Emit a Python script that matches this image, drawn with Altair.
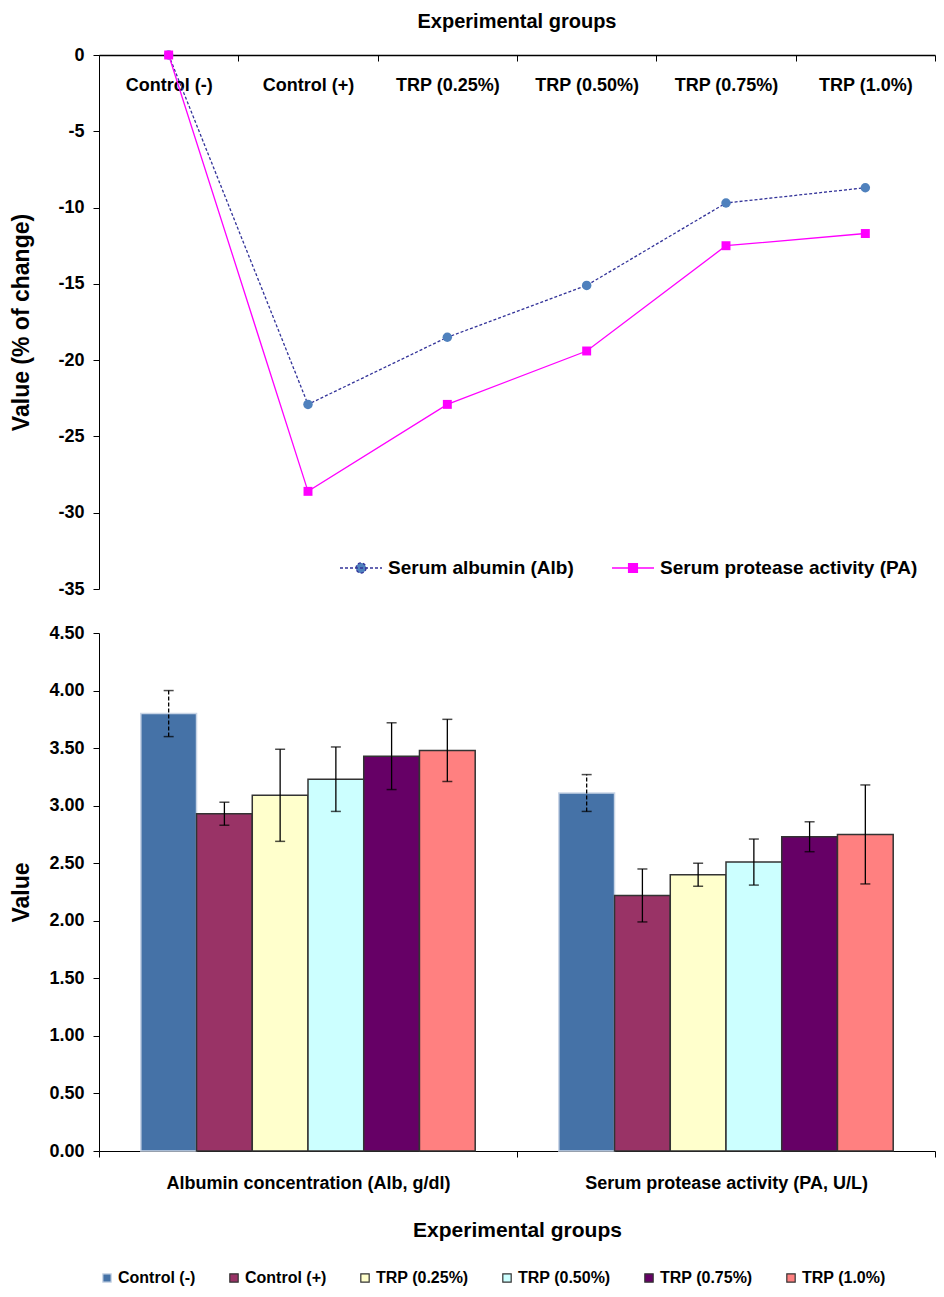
import altair as alt
import pandas as pd

FONT = "Liberation Sans"

groups = ["Control (-)", "Control (+)", "TRP (0.25%)", "TRP (0.50%)", "TRP (0.75%)", "TRP (1.0%)"]

# Top panel: % change
series = ["Serum albumin (Alb)", "Serum protease activity  (PA)"]
alb_change = [0, -22.9, -18.5, -15.1, -9.7, -8.7]
pa_change = [0, -28.6, -22.9, -19.4, -12.5, -11.7]

# Bottom panel: values (mean and SD)
measures = ["Albumin concentration (Alb, g/dl)", "Serum protease activity  (PA, U/L)"]
alb_mean = [3.80, 2.93, 3.09, 3.23, 3.43, 3.48]
alb_sd = [0.20, 0.10, 0.40, 0.28, 0.29, 0.27]
pa_mean = [3.11, 2.22, 2.40, 2.51, 2.73, 2.75]
pa_sd = [0.16, 0.23, 0.10, 0.20, 0.13, 0.43]

bar_fill = ["#4572A7", "#993366", "#FFFFCC", "#CCFFFF", "#660066", "#FF8080"]
bar_stroke = ["#C9D5E6", "#333333", "#333333", "#333333", "#333333", "#333333"]

line_colors = ["#333399", "#FF00FF"]
marker_colors = ["#4F81BD", "#FF00FF"]

W = 836
H1 = 534
H2 = 518

alb_df = pd.DataFrame({"group": groups, "series": series[0], "value": alb_change})
pa_df = pd.DataFrame({"group": groups, "series": series[1], "value": pa_change})
top_df = pd.concat([alb_df, pa_df], ignore_index=True)

bar_rows = []
for g, m, s in zip(groups, alb_mean, alb_sd):
    bar_rows.append({"measure": measures[0], "group": g, "mean": m, "lo": m - s, "hi": m + s})
for g, m, s in zip(groups, pa_mean, pa_sd):
    bar_rows.append({"measure": measures[1], "group": g, "mean": m, "lo": m - s, "hi": m + s})
bar_df = pd.DataFrame(bar_rows)

x_top = alt.X(
    "group:N", sort=groups, bandPosition=0.5,
    scale=alt.Scale(type="band", domain=groups, paddingInner=0, paddingOuter=0),
    axis=alt.Axis(orient="bottom", offset=-H1, title=None, tickBand="extent",
                  labelAngle=0, labelFontSize=18, labelFontWeight="bold",
                  labelPadding=15, tickSize=6, labelColor="black",
                  domainColor="black", tickColor="black", domainWidth=1.5),
)
y_top = alt.Y(
    "value:Q",
    scale=alt.Scale(domain=[-35, 0], nice=False),
    axis=alt.Axis(values=list(range(-35, 1, 5)), labelExpr="datum.value + ''",
                  title="Value (% of change)",
                  titleFontSize=23, titleFontWeight="bold", labelFontSize=18,
                  labelFontWeight="bold", labelColor="black", titleColor="black",
                  domainColor="black", tickColor="black", grid=False,
                  labelPadding=9, titlePadding=24, tickSize=6),
)

line_alb = alt.Chart(alb_df).mark_line(strokeWidth=1.3, color=line_colors[0], strokeDash=[3, 2]).encode(x=x_top, y=y_top)
line_pa = alt.Chart(pa_df).mark_line(strokeWidth=1.3, color=line_colors[1]).encode(x=x_top, y=y_top)
pts_alb = alt.Chart(alb_df).mark_point(filled=True, shape="circle", size=90, opacity=1, color=marker_colors[0]).encode(x=x_top, y=y_top)
pts_pa = alt.Chart(pa_df).mark_point(filled=True, shape="square", size=80, opacity=1, color=marker_colors[1]).encode(x=x_top, y=y_top)

# legend symbols: line with marker
sym_paths = [
    "M-1,0H1M0.24,0A0.24,0.24,0,1,1,-0.24,0A0.24,0.24,0,1,1,0.24,0Z",
    "M-1,0H1M-0.21,-0.21H0.21V0.21H-0.21Z",
]
leg_top = alt.Legend(
    title=None, orient="none", legendX=240, legendY=491, direction="horizontal",
    labelFontSize=19, labelFontWeight="bold", labelColor="black",
    symbolSize=1764, symbolStrokeWidth=1.3, symbolOpacity=1, columnPadding=35,
    labelLimit=400, labelOffset=5,
)
leg_layer = alt.Chart(top_df).mark_point(opacity=0).encode(
    x=x_top, y=y_top,
    fill=alt.Fill("series:N", sort=series, scale=alt.Scale(domain=series, range=marker_colors), legend=leg_top),
    stroke=alt.Stroke("series:N", sort=series, scale=alt.Scale(domain=series, range=line_colors), legend=leg_top),
    strokeDash=alt.StrokeDash("series:N", sort=series, scale=alt.Scale(domain=series, range=[[3, 2], [1, 0]]), legend=leg_top),
    shape=alt.Shape("series:N", sort=series, scale=alt.Scale(domain=series, range=sym_paths), legend=leg_top),
)

top = alt.layer(line_alb, line_pa, pts_alb, pts_pa, leg_layer).properties(
    width=W, height=H1,
    title=alt.TitleParams("Experimental groups", fontSize=20, fontWeight="bold",
                          anchor="middle", offset=14, color="black"),
)

x_bot = alt.X(
    "measure:N", sort=measures,
    scale=alt.Scale(paddingInner=0, paddingOuter=0),
    axis=alt.Axis(title="Experimental groups", tickBand="extent", labelAngle=0,
                  labelFontSize=18, labelFontWeight="bold", labelColor="black",
                  titleFontSize=21, titleFontWeight="bold", titleColor="black",
                  labelPadding=17, titlePadding=27, tickSize=6, labelLimit=400,
                  domainColor="black", tickColor="black"),
)
xo = alt.XOffset("group:N", sort=groups, scale=alt.Scale(domain=groups, paddingInner=0, paddingOuter=0.75))
y_bot = alt.Y(
    "mean:Q",
    scale=alt.Scale(domain=[0, 4.5], nice=False),
    axis=alt.Axis(values=[0, 0.5, 1, 1.5, 2, 2.5, 3, 3.5, 4, 4.5], format=".2f",
                  title="Value", titleFontSize=23, titleFontWeight="bold",
                  labelFontSize=18, labelFontWeight="bold", labelColor="black",
                  titleColor="black", domainColor="black", tickColor="black",
                  grid=False, labelPadding=9, titlePadding=15, tickSize=6),
)
leg_bot = alt.Legend(
    title=None, orient="bottom", direction="horizontal", columns=6,
    labelFontSize=16, labelFontWeight="bold", labelColor="black",
    symbolType="square", symbolSize=70, symbolStrokeWidth=1.2,
    columnPadding=30, offset=30, labelLimit=300, labelOffset=3,
)

bars = alt.Chart(bar_df).mark_bar(strokeWidth=1.5).encode(
    x=x_bot, xOffset=xo, y=y_bot,
    fill=alt.Fill("group:N", sort=groups, scale=alt.Scale(domain=groups, range=bar_fill), legend=leg_bot),
    stroke=alt.Stroke("group:N", sort=groups, scale=alt.Scale(domain=groups, range=bar_stroke), legend=leg_bot),
)
err = alt.Chart(bar_df).mark_rule(color="black", strokeWidth=1.3).encode(
    x=x_bot, xOffset=xo, y=alt.Y("lo:Q"), y2="hi:Q",
    strokeDash=alt.condition(alt.datum.group == groups[0], alt.value([4, 2]), alt.value([1, 0])),
)
cap_lo = alt.Chart(bar_df).mark_tick(color="black", size=10, thickness=1.5).encode(
    x=x_bot, xOffset=xo, y=alt.Y("lo:Q"),
)
cap_hi = alt.Chart(bar_df).mark_tick(color="black", size=10, thickness=1.5).encode(
    x=x_bot, xOffset=xo, y=alt.Y("hi:Q"),
)
bottom = alt.layer(bars, err, cap_lo, cap_hi).properties(width=W, height=H2)

chart = alt.vconcat(top, bottom, spacing=26).resolve_scale(
    fill="independent", stroke="independent", shape="independent", strokeDash="independent",
    x="independent", y="independent",
).resolve_legend(fill="independent", stroke="independent").properties(
    padding={"left": 2, "right": 0, "top": 4, "bottom": 0}
).configure(font=FONT, view=alt.ViewConfig(strokeWidth=0))

chart.save("out.html", embed_options={"renderer": "svg", "actions": False})
